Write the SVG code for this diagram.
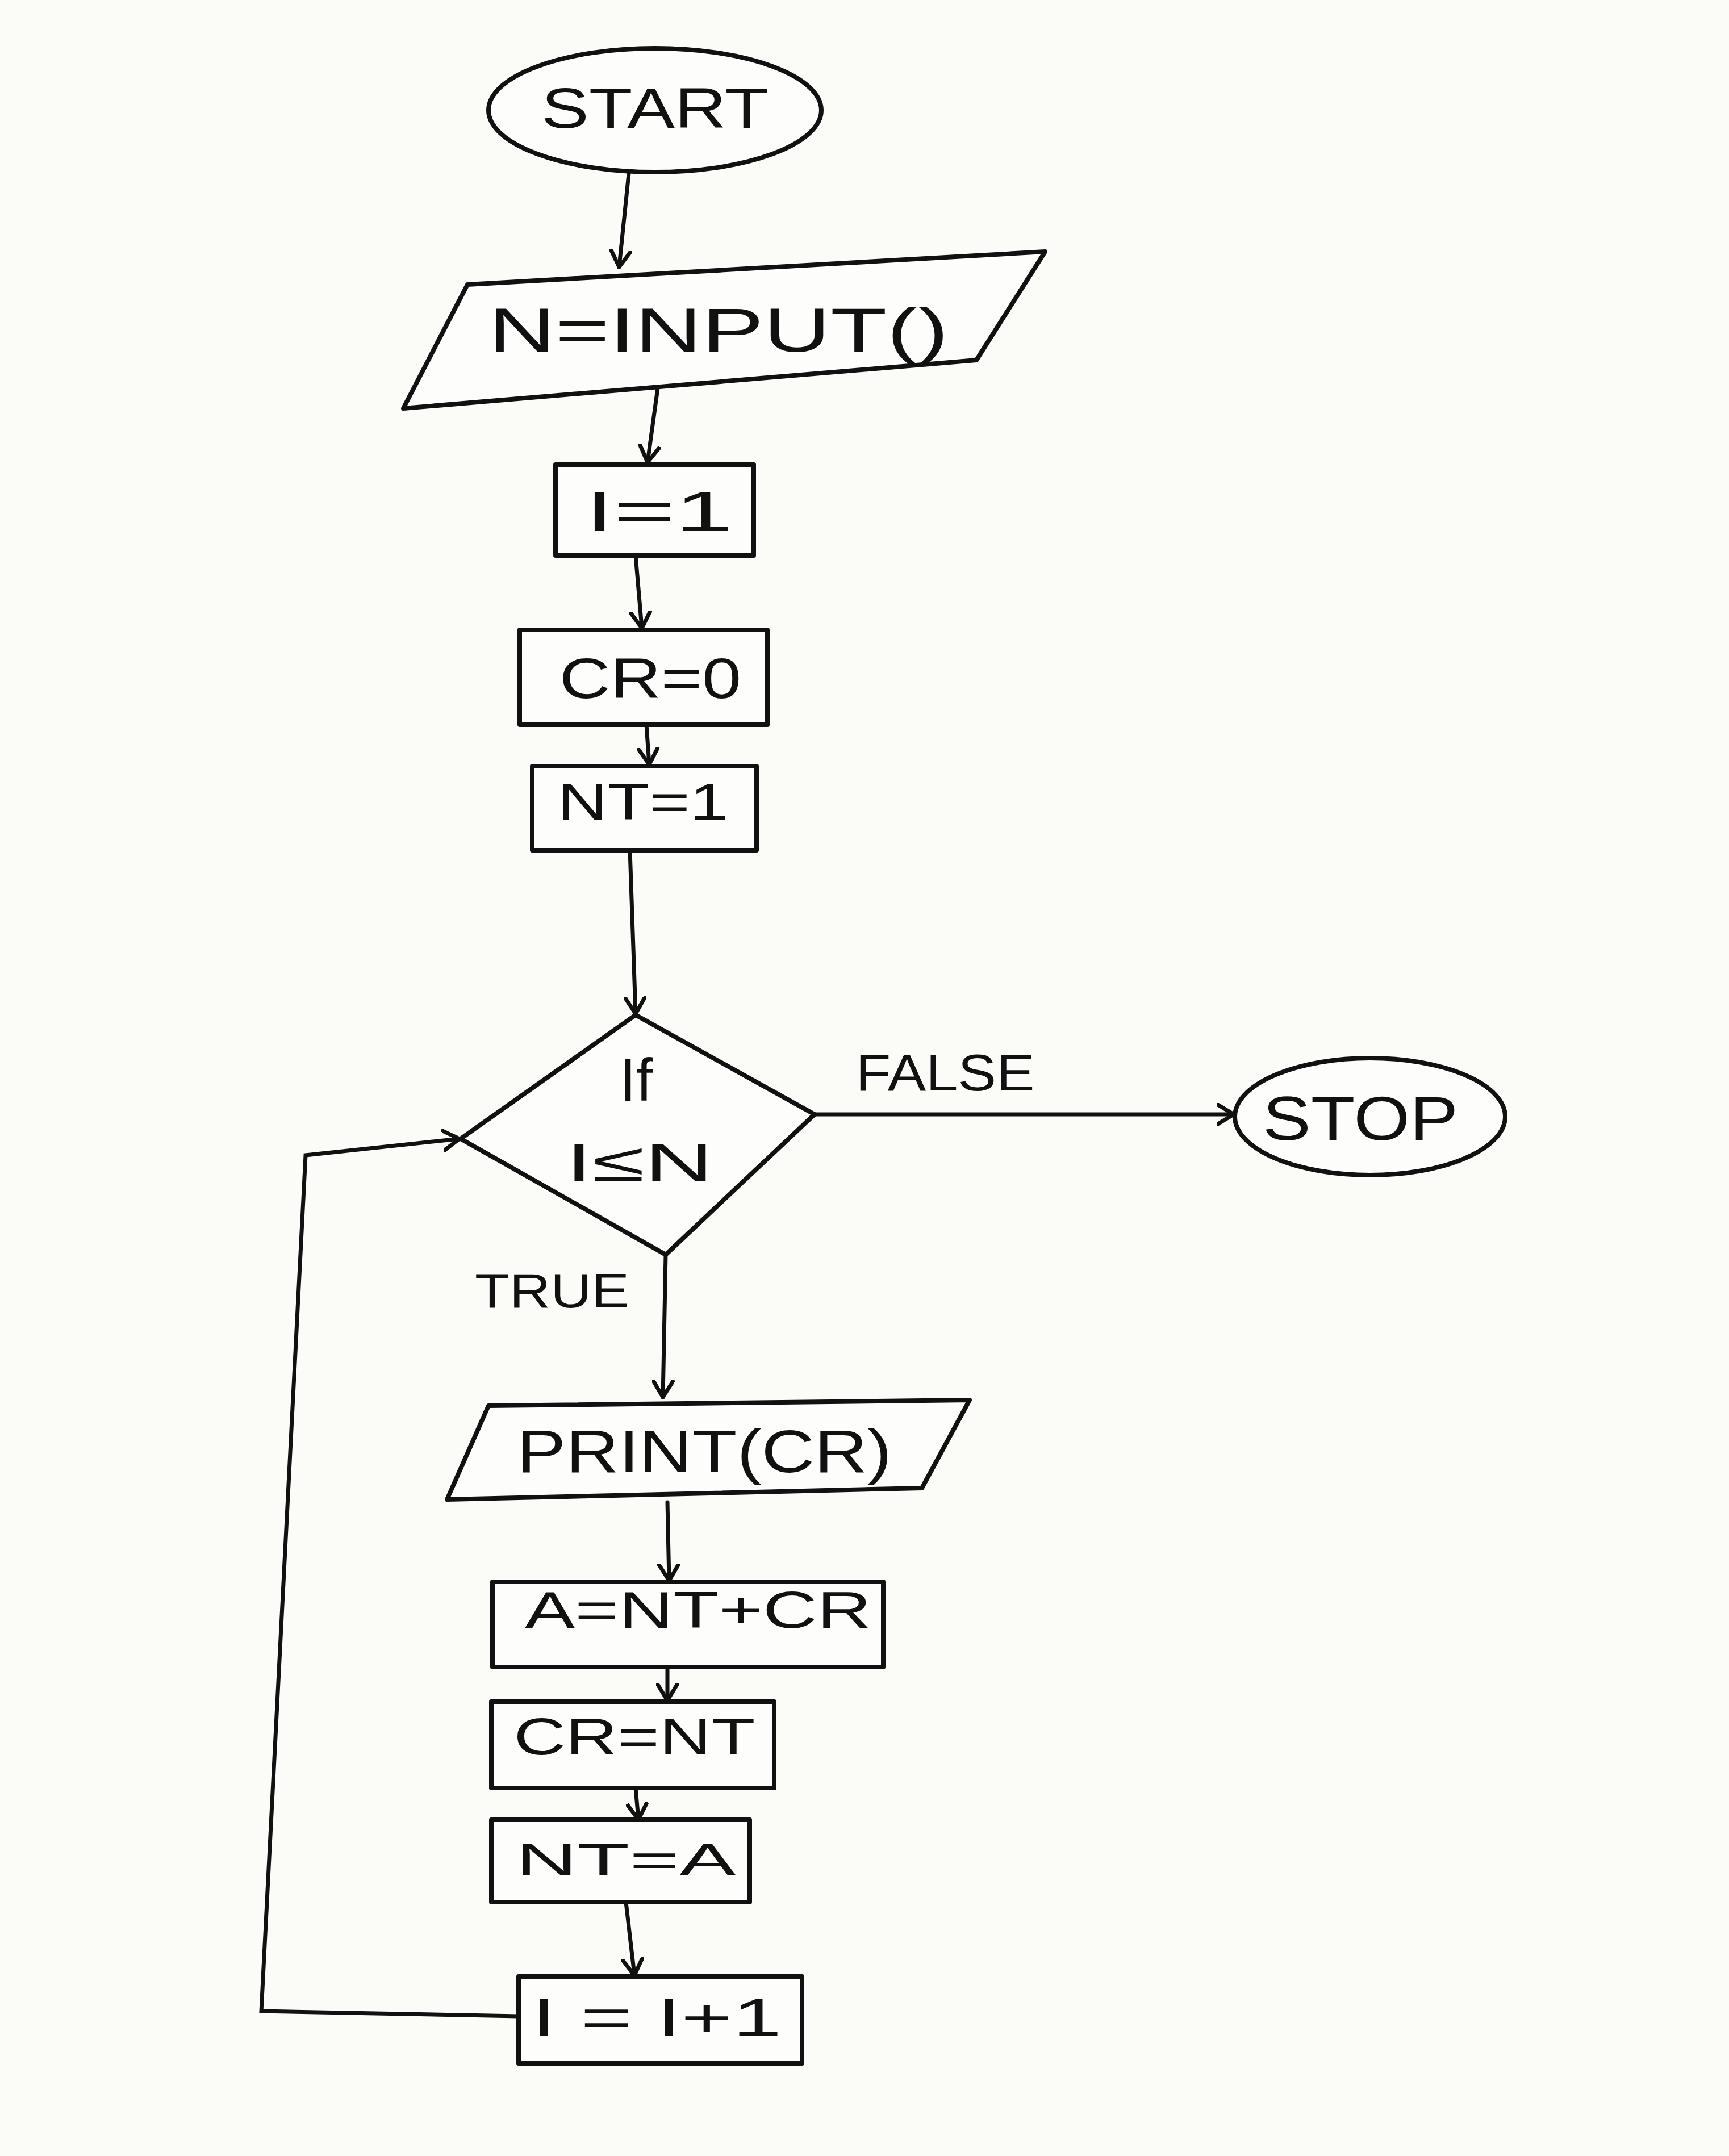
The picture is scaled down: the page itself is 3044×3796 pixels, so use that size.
<svg xmlns="http://www.w3.org/2000/svg" width="3044" height="3796" viewBox="0 0 3044 3796">
<defs>
<style>
.s{fill:#fdfdfb;stroke:#111;stroke-width:8;stroke-linejoin:round}
.c{fill:none;stroke:#111;stroke-width:7;stroke-linecap:round}
.t{font-family:"Liberation Sans",Arial,sans-serif;fill:#111;text-anchor:middle;dominant-baseline:central}
</style>
<marker id="ah" viewBox="-30 -20 34 40" markerWidth="34" markerHeight="40" refX="0" refY="0" orient="auto" markerUnits="userSpaceOnUse">
<path d="M-28,-17 L0,0 L-28,17" fill="none" stroke="#111" stroke-width="7" stroke-linecap="round"/>
</marker>
</defs>
<rect width="3044" height="3796" fill="#fbfbf8"/>
<g id="connectors">
<path class="c" d="M1109,286 L1090,470" marker-end="url(#ah)"/>
<path class="c" d="M1158,683 L1140,814" marker-end="url(#ah)"/>
<path class="c" d="M1119,978 L1130,1106" marker-end="url(#ah)"/>
<path class="c" d="M1138,1276 L1143,1346" marker-end="url(#ah)"/>
<path class="c" d="M1109,1497 L1119,1785" marker-end="url(#ah)"/>
<path class="c" d="M1434,1962 L2172,1962" marker-end="url(#ah)"/>
<path class="c" d="M1172,2209 L1167,2460" marker-end="url(#ah)"/>
<path class="c" d="M1175,2645 L1178,2783" marker-end="url(#ah)"/>
<path class="c" d="M1175,2935 L1175,2994" marker-end="url(#ah)"/>
<path class="c" d="M1119,3148 L1124,3204" marker-end="url(#ah)"/>
<path class="c" d="M1102,3349 L1117,3478" marker-end="url(#ah)"/>
<path class="c" d="M913,3550 L460,3541 L538,2034 L809,2005" marker-end="url(#ah)"/>
</g>
<g id="start"><ellipse class="s" cx="1153" cy="194" rx="293" ry="109"/><text class="t" x="1153" y="190" font-size="100" textLength="400" lengthAdjust="spacingAndGlyphs">START</text></g>
<g id="input"><polygon class="s" points="823,501 1840,443 1719,634 710,719"/><text class="t" x="1265" y="580" font-size="110" textLength="810" lengthAdjust="spacingAndGlyphs">N=INPUT()</text></g>
<g id="i1"><rect class="s" x="978" y="818" width="349" height="160"/><text class="t" x="1160" y="900" font-size="100" textLength="260" lengthAdjust="spacingAndGlyphs">I=1</text></g>
<g id="cr0"><rect class="s" x="915" y="1109" width="436" height="167"/><text class="t" x="1145" y="1194" font-size="100" textLength="320" lengthAdjust="spacingAndGlyphs">CR=0</text></g>
<g id="nt1"><rect class="s" x="937" y="1349" width="395" height="148"/><text class="t" x="1132" y="1412" font-size="90" textLength="300" lengthAdjust="spacingAndGlyphs">NT=1</text></g>
<g id="decision"><polygon class="s" points="1119,1787 1434,1962 1172,2209 811,2005"/><text class="t" x="1120" y="1901" font-size="105">If</text><text class="t" x="1126" y="2046" font-size="95" textLength="260" lengthAdjust="spacingAndGlyphs">I≤N</text></g>
<text class="t" x="1664" y="1889" font-size="90" textLength="315" lengthAdjust="spacingAndGlyphs">FALSE</text>
<text class="t" x="972" y="2272" font-size="85" textLength="272" lengthAdjust="spacingAndGlyphs">TRUE</text>
<g id="stop"><ellipse class="s" cx="2412" cy="1966" rx="238" ry="103"/><text class="t" x="2395" y="1968" font-size="110" textLength="344" lengthAdjust="spacingAndGlyphs">STOP</text></g>
<g id="print"><polygon class="s" points="860,2475 1707,2465 1623,2620 787,2640"/><text class="t" x="1240" y="2555" font-size="105" textLength="660" lengthAdjust="spacingAndGlyphs">PRINT(CR)</text></g>
<g id="a"><rect class="s" x="867" y="2785" width="688" height="150"/><text class="t" x="1229" y="2835" font-size="90" textLength="610" lengthAdjust="spacingAndGlyphs">A=NT+CR</text></g>
<g id="crnt"><rect class="s" x="865" y="2996" width="498" height="152"/><text class="t" x="1117" y="3058" font-size="90" textLength="425" lengthAdjust="spacingAndGlyphs">CR=NT</text></g>
<g id="nta"><rect class="s" x="865" y="3204" width="455" height="145"/><text class="t" x="1102" y="3274" font-size="80" textLength="388" lengthAdjust="spacingAndGlyphs">NT=A</text></g>
<g id="inc"><rect class="s" x="913" y="3480" width="499" height="153"/><text class="t" x="1156" y="3552" font-size="95" textLength="440" lengthAdjust="spacingAndGlyphs">I = I+1</text></g>
</svg>
